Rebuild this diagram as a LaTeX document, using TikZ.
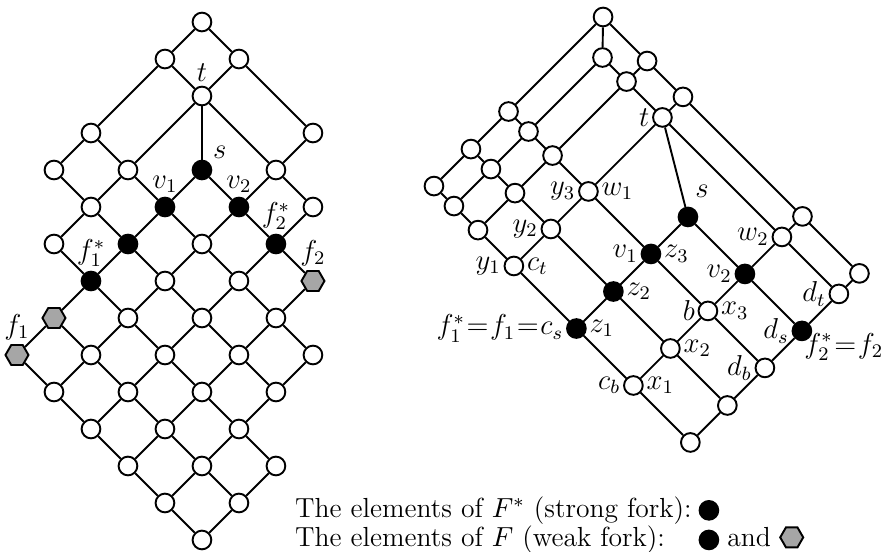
\documentclass[tikz,border=0pt]{standalone}
\usepackage{fix-cm}
\usetikzlibrary{shapes.geometric,positioning}
\tikzset{
  vtx/.style={circle,draw,fill=white,minimum size=7.8pt,inner sep=0pt},
  fork/.style={vtx,fill=black},
  weak/.style={regular polygon,regular polygon sides=6,draw,fill=black!35,minimum size=9.6pt,inner sep=0pt},
  legtext/.style={anchor=base west,inner sep=0pt,font=\fontsize{11.5}{14}\selectfont},
  every label/.style={inner sep=1.2pt},
}
\newcommand{\eqq}{\mkern-4mu=\mkern-4mu}
\begin{document}
\begin{tikzpicture}[x=15.42pt,y=15.42pt,line width=0.8pt,font=\large]
  \useasboundingbox (0,0) rectangle (23.84,-14.92);
  % left lattice
  \begin{scope}[shift={(0.459,-0.595)}]
    \foreach \i/\j in {5/0,4/1,6/1,2/3,8/3,1/4,3/4,7/4,2/5,8/5,1/6,5/6,4/7,6/7,3/8,5/8,7/8,
                       2/9,4/9,6/9,8/9,1/10,3/10,5/10,7/10,2/11,4/11,6/11,3/12,5/12,7/12,4/13,6/13,5/14}
      \node[vtx] (l-\i-\j) at (\i,-\j) {};
    \node[vtx,label=above:$t$] (l-5-2) at (5,-2) {};
    \node[fork,label=45:$s$] (l-5-4) at (5,-4) {};
    \node[fork,label=above:$v_1$] (l-4-5) at (4,-5) {};
    \node[fork,label=above:$v_2$] (l-6-5) at (6,-5) {};
    \node[fork] (l-3-6) at (3,-6) {};
    \node[fork,label=above:$f_2^*$] (l-7-6) at (7,-6) {};
    \node[fork,label=above:$f_1^*$] (l-2-7) at (2,-7) {};
    \node[weak,label=above:$f_2$] (l-8-7) at (8,-7) {};
    \node[weak] (l-1-8) at (1,-8) {};
    \node[weak,label=above:$f_1$] (l-0-9) at (0,-9) {};
    % down to the right
    \draw (l-5-0) -- (l-6-1) -- (l-8-3);
    \draw (l-4-1) -- (l-5-2) -- (l-7-4) -- (l-8-5);
    \draw (l-5-4) -- (l-6-5) -- (l-7-6) -- (l-8-7);
    \draw (l-2-3) -- (l-3-4) -- (l-4-5) -- (l-5-6) -- (l-6-7) -- (l-7-8) -- (l-8-9);
    \draw (l-1-4) -- (l-2-5) -- (l-3-6) -- (l-4-7) -- (l-5-8) -- (l-6-9) -- (l-7-10);
    \draw (l-1-6) -- (l-2-7) -- (l-3-8) -- (l-4-9) -- (l-5-10) -- (l-6-11) -- (l-7-12);
    \draw (l-1-8) -- (l-2-9) -- (l-3-10) -- (l-4-11) -- (l-5-12) -- (l-6-13);
    \draw (l-0-9) -- (l-1-10) -- (l-2-11) -- (l-3-12) -- (l-4-13) -- (l-5-14);
    % down to the left
    \draw (l-5-0) -- (l-4-1) -- (l-2-3) -- (l-1-4);
    \draw (l-6-1) -- (l-5-2) -- (l-3-4) -- (l-2-5) -- (l-1-6);
    \draw (l-5-4) -- (l-4-5) -- (l-3-6) -- (l-2-7) -- (l-1-8) -- (l-0-9);
    \draw (l-8-3) -- (l-7-4) -- (l-6-5) -- (l-5-6) -- (l-4-7) -- (l-3-8) -- (l-2-9) -- (l-1-10);
    \draw (l-8-5) -- (l-7-6) -- (l-6-7) -- (l-5-8) -- (l-4-9) -- (l-3-10) -- (l-2-11);
    \draw (l-8-7) -- (l-7-8) -- (l-6-9) -- (l-5-10) -- (l-4-11) -- (l-3-12);
    \draw (l-8-9) -- (l-7-10) -- (l-6-11) -- (l-5-12) -- (l-4-13);
    \draw (l-7-12) -- (l-6-13) -- (l-5-14);
    \draw (l-5-2) -- (l-5-4);
  \end{scope}
  % right lattice
  \begin{scope}[shift={(16.30,-0.459)},x={(7.71pt,-7.71pt)},y={(-7.71pt,-7.71pt)},
                every label/.style={inner sep=0.8pt}]
    \node[vtx] (rtop) at (0,0) {};
    \node[vtx] (q1) at (1.08,1.11) {};
    \node[vtx] (q2) at (2.38,0) {};
    \node[vtx] (q3) at (2.38,1.11) {};
    \node[vtx] (q4) at (4.32,0) {};
    \node[vtx,label=left:$t$] (rt) at (4.32,1.11) {};
    \node[vtx] (q5) at (0,5.11) {};
    \node[vtx] (q6) at (1.08,5.11) {};
    \node[vtx] (q7) at (2.38,5.11) {};
    \node[vtx,label=left:$y_3$,label=right:$w_1$] (w1) at (4.32,5.11) {};
    \node[vtx] (q8) at (0,7.14) {};
    \node[vtx] (q9) at (1.08,7.14) {};
    \node[vtx] (q10) at (2.38,7.14) {};
    \node[vtx,label=left:$y_2$] (y2) at (4.32,7.14) {};
    \node[vtx] (q11) at (0,9.14) {};
    \node[vtx] (q12) at (1.08,9.14) {};
    \node[vtx] (q13) at (2.38,9.14) {};
    \node[vtx,label=left:$y_1$,label=right:$c_t$] (y1) at (4.32,9.14) {};
    \node[fork,label={[label distance=3pt]75:$s$}] (rs) at (7.70,3.11) {};
    \node[fork,label=left:$v_1$,label=right:$z_3$] (v1) at (7.70,5.11) {};
    \node[fork,label=right:$z_2$] (z2) at (7.70,7.14) {};
    \node[fork,label={left:$f_1^*\eqq f_1\eqq c_s$},label=right:$z_1$] (z1) at (7.70,9.14) {};
    \node[vtx] (q14) at (10.78,0) {};
    \node[vtx,label=left:$w_2$] (w2) at (10.78,1.11) {};
    \node[fork,label=left:$v_2$] (rv2) at (10.78,3.11) {};
    \node[vtx,label=left:$b$,label=right:$x_3$] (x3) at (10.78,5.11) {};
    \node[vtx,label=right:$x_2$] (x2) at (10.78,7.14) {};
    \node[vtx,label=left:$c_b$,label=right:$x_1$] (x1) at (10.78,9.14) {};
    \node[vtx] (q15) at (13.86,0) {};
    \node[vtx,label=left:$d_t$] (dt) at (13.86,1.11) {};
    \node[fork,label=left:$d_s$,label={[label distance=-4.5pt]-45:$f_2^*\eqq f_2$}] (ds) at (13.86,3.11) {};
    \node[vtx,label=left:$d_b$] (db) at (13.86,5.11) {};
    \node[vtx] (q16) at (13.86,7.14) {};
    \node[vtx] (rbot) at (13.86,9.14) {};
    % down to the right
    \draw (rtop) -- (q2) -- (q4) -- (q14) -- (q15);
    \draw (q1) -- (q3) -- (rt) -- (w2) -- (dt);
    \draw (rs) -- (rv2) -- (ds);
    \draw (q5) -- (q6) -- (q7) -- (w1) -- (v1) -- (x3) -- (db);
    \draw (q8) -- (q9) -- (q10) -- (y2) -- (z2) -- (x2) -- (q16);
    \draw (q11) -- (q12) -- (q13) -- (y1) -- (z1) -- (x1) -- (rbot);
    % down to the left
    \draw (rtop) -- (q5) -- (q8) -- (q11);
    \draw (q1) -- (q6) -- (q9) -- (q12);
    \draw (q2) -- (q3) -- (q7) -- (q10) -- (q13);
    \draw (q4) -- (rt) -- (w1) -- (y2) -- (y1);
    \draw (rs) -- (v1) -- (z2) -- (z1);
    \draw (q14) -- (w2) -- (rv2) -- (x3) -- (x2) -- (x1);
    \draw (q15) -- (dt) -- (ds) -- (db) -- (q16) -- (rbot);
    \draw (rtop) -- (q1);
    \draw (rt) -- (rs);
  \end{scope}
  % legend
  \node[legtext] (leg1) at (7.95,-13.98) {The elements of $F^*$ (strong fork):};
  \node[fork,right=2.5pt of leg1] (key1) {};
  \node[legtext] (leg2) at (7.95,-14.78) {The elements of $F$ (weak fork):};
  \node[fork] (key2) at (key1 |- leg2) {};
  \node[legtext] (andtxt) at ([xshift=3pt]key2.east |- leg2.base) {and};
  \node[weak,right=3pt of andtxt] (key3) {};
\end{tikzpicture}
\end{document}
